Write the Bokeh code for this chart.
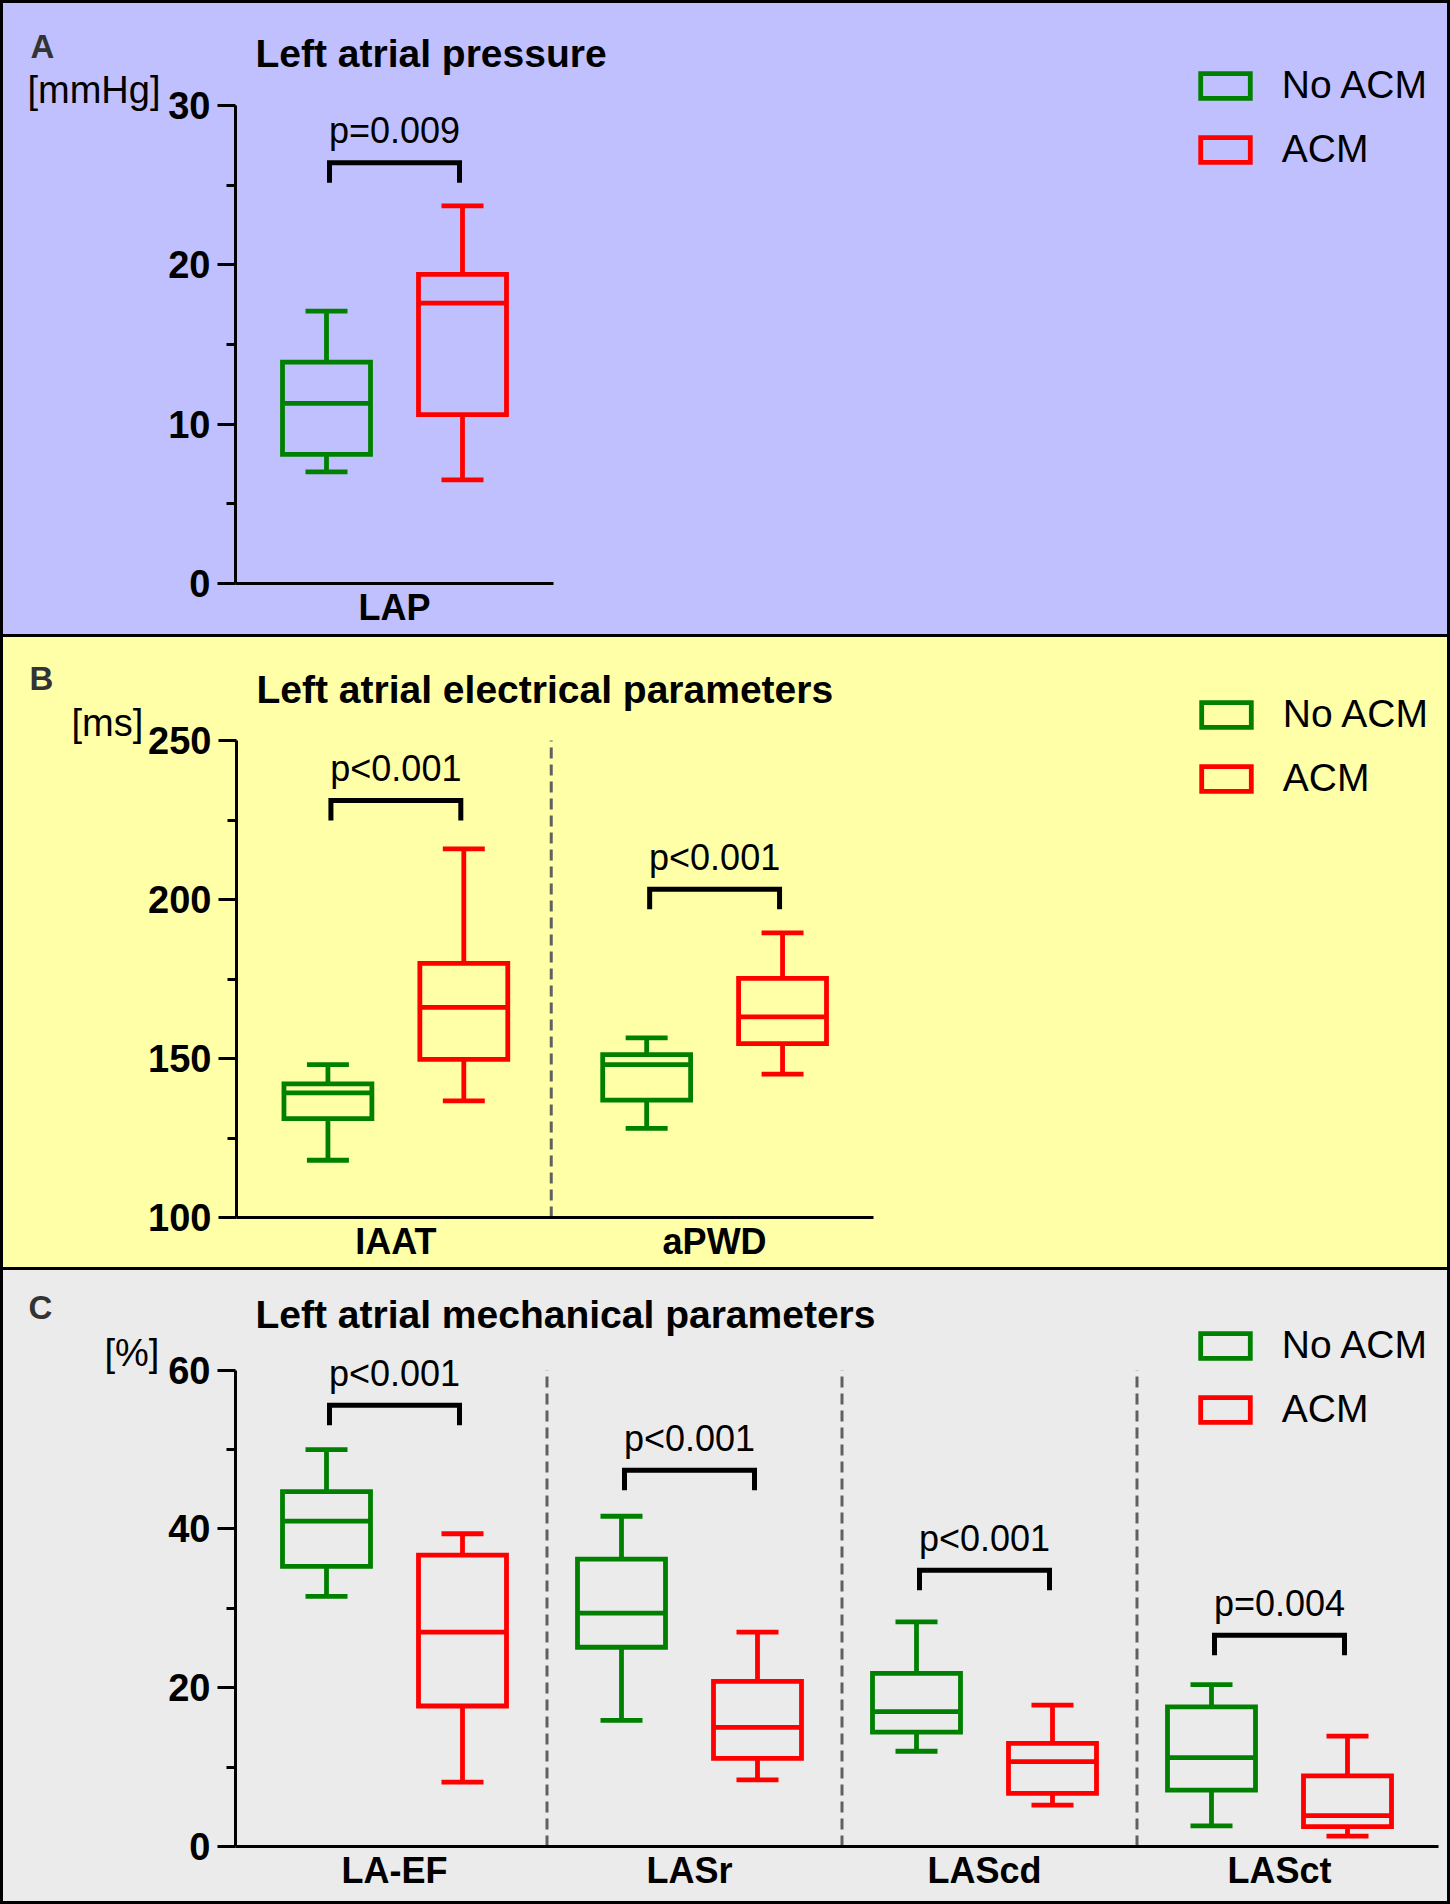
import numpy as np
from bokeh.plotting import figure
from bokeh.models import Range1d, FixedTicker, Label, Legend, LegendItem, Spacer
from bokeh.layouts import column, row
from bokeh.embed import file_html
from bokeh.resources import INLINE
from bokeh.core.properties import value

# ---------------- data ----------------
groups = ["No ACM", "ACM"]
group_colors = ["#008000", "#FF0000"]

# Panel A: Left atrial pressure [mmHg]
a_categories = ["LAP"]
a_noacm_low = [7.0]
a_noacm_q1 = [8.1]
a_noacm_median = [11.3]
a_noacm_q3 = [13.9]
a_noacm_high = [17.1]
a_acm_low = [6.5]
a_acm_q1 = [10.6]
a_acm_median = [17.6]
a_acm_q3 = [19.4]
a_acm_high = [23.7]
a_p_labels = ["p=0.009"]
a_bracket_y = [26.4]
a_ticks = [0, 10, 20, 30]
a_minor_ticks = [5, 15, 25]

# Panel B: Left atrial electrical parameters [ms]
b_categories = ["IAAT", "aPWD"]
b_noacm_low = [118.0, 128.0]
b_noacm_q1 = [131.1, 136.9]
b_noacm_median = [139.2, 148.1]
b_noacm_q3 = [142.0, 151.2]
b_noacm_high = [148.1, 156.5]
b_acm_low = [136.7, 145.1]
b_acm_q1 = [149.7, 154.7]
b_acm_median = [166.1, 163.1]
b_acm_q3 = [179.9, 175.2]
b_acm_high = [215.9, 189.5]
b_p_labels = ["p<0.001", "p<0.001"]
b_bracket_y = [231.1, 203.2]
b_ticks = [100, 150, 200, 250]
b_minor_ticks = [125, 175, 225]

# Panel C: Left atrial mechanical parameters [%]
c_categories = ["LA-EF", "LASr", "LAScd", "LASct"]
c_noacm_low = [31.5, 15.9, 12.0, 2.6]
c_noacm_q1 = [35.3, 25.1, 14.4, 7.1]
c_noacm_median = [41.0, 29.4, 17.0, 11.2]
c_noacm_q3 = [44.7, 36.2, 21.8, 17.6]
c_noacm_high = [50.0, 41.6, 28.3, 20.4]
c_acm_low = [8.1, 8.4, 5.2, 1.3]
c_acm_q1 = [17.7, 11.1, 6.7, 2.5]
c_acm_median = [27.0, 15.0, 10.7, 3.9]
c_acm_q3 = [36.7, 20.8, 13.0, 8.9]
c_acm_high = [39.4, 27.0, 17.8, 13.9]
c_p_labels = ["p<0.001", "p<0.001", "p<0.001", "p=0.004"]
c_bracket_y = [55.6, 47.4, 34.8, 26.6]
c_ticks = [0, 20, 40, 60]
c_minor_ticks = [10, 30, 50]

# ---------------- layout / style ----------------
FONT = "Liberation Sans"
TOTAL_W = 1450
BORDER = 3
INNER_W = TOTAL_W - 2 * BORDER      # 1444
FRAME_LEFT = 232                     # y-axis position inside a panel
OFF_PX = 68
HALF_BOX_PX = 44
HALF_CAP_PX = 21
BRACKET_HALF_PX = 65
LEG_PX = 20
P_OFF_PX = 32
LW_BOX = 4.8
LW_BRACKET = 5


def black_bar(w, h):
    return Spacer(width=w, height=h, styles={"background-color": "black"})


def side_figure(letter, unit, bg, g):
    lw, H = g["left_w"], g["H"]
    s = figure(width=lw, height=H, x_range=Range1d(0, lw), y_range=Range1d(H, 0),
               output_backend="svg", toolbar_location=None,
               x_axis_location=None, y_axis_location=None,
               min_border_left=0, min_border_right=0, min_border_top=0, min_border_bottom=0,
               background_fill_color=None, border_fill_color=bg, outline_line_color=None)
    for gr in s.grid:
        gr.visible = False
    s.text(x=[g["letter_xy"][0]], y=[g["letter_xy"][1]], text=[letter],
           text_font=value(FONT), text_font_size="33px", text_font_style="bold",
           text_color="#333333", text_align="left", text_baseline="alphabetic")
    s.text(x=[g["unit_xy"][0]], y=[g["unit_xy"][1]], text=[unit],
           text_font=value(FONT), text_font_size="38px", text_font_style="normal",
           text_color="black", text_align="left", text_baseline="alphabetic")
    return s


def main_figure(cats, no, acm, p_labels, bracket_y, ticks, minor, title, bg, g):
    H = g["H"]
    lw = g["left_w"]
    W = INNER_W - lw
    left = FRAME_LEFT - lw
    fh = H - g["bottom"]
    fw = W - left
    y0, y1 = ticks[0], ticks[-1]
    ppy = (fh - g["top_px"]) / (y1 - y0)
    y_end = y0 + fh / ppy
    ppx = g["unit_px"]
    x_start = -0.5 - g["pad_px"] / ppx
    x_end = x_start + fw / ppx

    p = figure(width=W, height=H, x_range=Range1d(x_start, x_end),
               y_range=Range1d(y0, y_end), output_backend="svg",
               toolbar_location=None, min_border_left=left, min_border_right=0,
               min_border_top=0, min_border_bottom=g["bottom"],
               background_fill_color=None, border_fill_color=bg,
               outline_line_color=None)
    p.xgrid.visible = False
    p.ygrid.visible = False

    n = len(cats)
    idx = np.arange(n, dtype=float)

    # x axis (categories)
    xa = p.xaxis[0]
    xa.ticker = FixedTicker(ticks=[float(i) for i in idx], minor_ticks=[])
    xa.major_label_overrides = {float(i): c for i, c in zip(idx, cats)}
    xa.bounds = (x_start, x_start + g["axis_len_px"] / ppx)
    xa.major_tick_line_color = None
    xa.minor_tick_line_color = None
    xa.major_tick_out = 0
    xa.major_tick_in = 0
    xa.minor_tick_out = 0
    xa.minor_tick_in = 0
    xa.axis_line_width = 3
    xa.axis_line_color = "black"
    xa.major_label_standoff = 3
    xa.major_label_text_font = FONT
    xa.major_label_text_font_size = "36px"
    xa.major_label_text_font_style = "bold"
    xa.major_label_text_color = "black"

    # y axis
    ya = p.yaxis[0]
    ya.ticker = FixedTicker(ticks=ticks, minor_ticks=minor)
    ya.bounds = (y0, y1)
    ya.major_tick_out = 18
    ya.major_tick_in = 0
    ya.minor_tick_out = 9
    ya.minor_tick_in = 0
    ya.axis_line_width = 3
    ya.major_tick_line_width = 3
    ya.minor_tick_line_width = 3
    ya.axis_line_color = "black"
    ya.major_tick_line_color = "black"
    ya.minor_tick_line_color = "black"
    ya.major_label_standoff = 7
    ya.major_label_text_font = FONT
    ya.major_label_text_font_size = "38px"
    ya.major_label_text_font_style = "bold"
    ya.major_label_text_color = "black"

    # dashed separators between categories
    if n > 1:
        sx = idx[:-1] + 0.5 + g["sep_shift_px"] / ppx
        p.segment(x0=sx, y0=[y0] * (n - 1), x1=sx, y1=[y1] * (n - 1),
                  line_color="#606060", line_width=3, line_dash="11 6")

    off = OFF_PX / ppx
    hb = HALF_BOX_PX / ppx
    hc = HALF_CAP_PX / ppx
    box_renderers = []
    for sign, d, col in ((-1, no, group_colors[0]), (1, acm, group_colors[1])):
        cx = idx + sign * off
        lo, q1, med, q3, hi = (np.array(d[k], dtype=float)
                               for k in ("low", "q1", "median", "q3", "high"))
        p.segment(x0=cx, y0=q3, x1=cx, y1=hi, line_color=col, line_width=LW_BOX)
        p.segment(x0=cx, y0=q1, x1=cx, y1=lo, line_color=col, line_width=LW_BOX)
        p.segment(x0=cx - hc, y0=hi, x1=cx + hc, y1=hi, line_color=col, line_width=LW_BOX)
        p.segment(x0=cx - hc, y0=lo, x1=cx + hc, y1=lo, line_color=col, line_width=LW_BOX)
        r = p.quad(left=cx - hb, right=cx + hb, bottom=q1, top=q3, fill_color=None,
                   line_color=col, line_width=LW_BOX, line_join="miter")
        p.segment(x0=cx - hb, y0=med, x1=cx + hb, y1=med, line_color=col, line_width=LW_BOX)
        box_renderers.append(r)

    # significance brackets + p values
    leg = LEG_PX / ppy
    bh = BRACKET_HALF_PX / ppx
    by = np.array(bracket_y, dtype=float)
    xs = [[i - bh, i - bh, i + bh, i + bh] for i in idx]
    ys = [[b - leg, b, b, b - leg] for b in by]
    p.multi_line(xs=xs, ys=ys, line_color="black", line_width=LW_BRACKET, line_join="miter")
    p.text(x=idx, y=by, text=p_labels, text_align="center", text_baseline="alphabetic",
           y_offset=-P_OFF_PX, text_font=value(FONT), text_font_size="36px",
           text_color="black")

    # legend
    row_h = 46
    spacing = 18
    leg_h = 2 * row_h + spacing
    legend = Legend(
        items=[LegendItem(label=groups[0], renderers=[box_renderers[0]]),
               LegendItem(label=groups[1], renderers=[box_renderers[1]])],
        location=(958.8, fh - g["legend_top"] - leg_h),
        orientation="vertical", glyph_width=62, glyph_height=31,
        label_height=row_h, spacing=spacing, padding=0, margin=0,
        label_standoff=26, label_text_font=FONT, label_text_font_size="39px",
        label_text_color="black", background_fill_alpha=0, border_line_alpha=0)
    p.add_layout(legend)

    # panel title
    p.add_layout(Label(x=g["title_xy"][0], y=fh - g["title_xy"][1],
                       x_units="screen", y_units="screen", text=title,
                       text_font=FONT, text_font_size="39px", text_font_style="bold",
                       text_color="black", text_align="left", text_baseline="alphabetic"))
    return p


geo_a = dict(H=631, bottom=51, top_px=102, unit_px=318, pad_px=0, axis_len_px=318,
             left_w=160, letter_xy=(27, 47), unit_xy=(24, 94),
             title_xy=(20, 50), legend_top=59.4, sep_shift_px=0)
geo_b = dict(H=630, bottom=50, top_px=103, unit_px=319, pad_px=0, axis_len_px=638,
             left_w=142, letter_xy=(26, 44), unit_xy=(68, 93),
             title_xy=(20, 52), legend_top=54.4, sep_shift_px=-4)
geo_c = dict(H=631, bottom=55, top_px=99.7, unit_px=295, pad_px=11.5, axis_len_px=1203,
             left_w=162, letter_xy=(25, 41), unit_xy=(101, 90),
             title_xy=(20, 44), legend_top=52.4, sep_shift_px=5)

panels = [
    (a_categories,
     dict(low=a_noacm_low, q1=a_noacm_q1, median=a_noacm_median, q3=a_noacm_q3, high=a_noacm_high),
     dict(low=a_acm_low, q1=a_acm_q1, median=a_acm_median, q3=a_acm_q3, high=a_acm_high),
     a_p_labels, a_bracket_y, a_ticks, a_minor_ticks,
     "A", "Left atrial pressure", "[mmHg]", "#C0C0FF", geo_a),
    (b_categories,
     dict(low=b_noacm_low, q1=b_noacm_q1, median=b_noacm_median, q3=b_noacm_q3, high=b_noacm_high),
     dict(low=b_acm_low, q1=b_acm_q1, median=b_acm_median, q3=b_acm_q3, high=b_acm_high),
     b_p_labels, b_bracket_y, b_ticks, b_minor_ticks,
     "B", "Left atrial electrical parameters", "[ms]", "#FFFFA8", geo_b),
    (c_categories,
     dict(low=c_noacm_low, q1=c_noacm_q1, median=c_noacm_median, q3=c_noacm_q3, high=c_noacm_high),
     dict(low=c_acm_low, q1=c_acm_q1, median=c_acm_median, q3=c_acm_q3, high=c_acm_high),
     c_p_labels, c_bracket_y, c_ticks, c_minor_ticks,
     "C", "Left atrial mechanical parameters", "[%]", "#EBEBEB", geo_c),
]

children = [black_bar(TOTAL_W, BORDER)]
for cats, no, acm, pl, byv, tk, mn, letter, title, unit, bg, g in panels:
    side = side_figure(letter, unit, bg, g)
    main = main_figure(cats, no, acm, pl, byv, tk, mn, title, bg, g)
    children.append(row(black_bar(BORDER, g["H"]), side, main, black_bar(BORDER, g["H"]),
                        spacing=0, styles={"background-color": bg}))
    children.append(black_bar(TOTAL_W, BORDER))

layout = column(*children, spacing=0)
open("out.html", "w").write(file_html(layout, INLINE))
